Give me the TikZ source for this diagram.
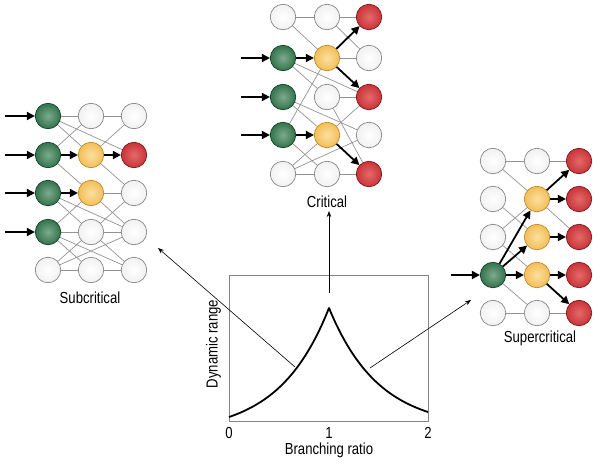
\documentclass[tikz,border=0pt]{standalone}
\usepackage{fontspec}
\setmainfont{Liberation Sans}[FakeStretch=0.82]
\usetikzlibrary{arrows.meta,backgrounds}
\definecolor{gI}{HTML}{7EAA8E}\definecolor{gM}{HTML}{3B7A53}\definecolor{gO}{HTML}{1B5232}\definecolor{bdG}{HTML}{143F27}
\definecolor{yI}{HTML}{FBE0A0}\definecolor{yM}{HTML}{F4C260}\definecolor{yO}{HTML}{E8A534}\definecolor{bdY}{HTML}{BE8A2A}
\definecolor{rI}{HTML}{E46A6A}\definecolor{rM}{HTML}{CC3A3E}\definecolor{rO}{HTML}{A61E24}\definecolor{bdR}{HTML}{7E171B}
\definecolor{wI}{HTML}{FFFFFF}\definecolor{wM}{HTML}{F1F1F1}\definecolor{wO}{HTML}{D6D6D6}\definecolor{bdW}{HTML}{858585}
\definecolor{edgegray}{HTML}{939393}
\pgfdeclareradialshading{shG}{\pgfpoint{0bp}{0bp}}{color(0bp)=(gI); color(22bp)=(gM); color(50bp)=(gO)}
\pgfdeclareradialshading{shY}{\pgfpoint{0bp}{0bp}}{color(0bp)=(yI); color(22bp)=(yM); color(50bp)=(yO)}
\pgfdeclareradialshading{shR}{\pgfpoint{0bp}{0bp}}{color(0bp)=(rI); color(22bp)=(rM); color(50bp)=(rO)}
\pgfdeclareradialshading{shW}{\pgfpoint{0bp}{0bp}}{color(0bp)=(wI); color(25bp)=(wM); color(50bp)=(wO)}
\tikzset{
  ball/.style={circle, minimum size=25.5pt, inner sep=0pt, line width=0.7pt, shade},
  link/.style={draw=edgegray, line width=0.7pt},
  fire/.style={draw=black, line width=1.8pt, -{Triangle[length=8pt,width=8pt]}},
  pointer/.style={draw=black, line width=0.6pt, -{Stealth[length=6pt,width=4.5pt]}},
  lbl/.style={anchor=base, inner sep=0pt, font=\fontsize{16}{19}\selectfont},
}
\newcommand\ballnode[4]{\node[ball, shading=sh#1, draw=bd#1] (#2) at (#3,#4) {};}
\begin{document}
\begin{tikzpicture}[x=1pt,y=-1pt]
\useasboundingbox (0,0) rectangle (600,466);
% ---------- Subcritical
\foreach \r/\y/\a/\b/\c in {1/116/G/W/W, 2/155/G/Y/R, 3/193/G/Y/W, 4/232/G/W/W, 5/270/W/W/W}{
  \ballnode{\a}{s1\r}{48}{\y}
  \ballnode{\b}{s2\r}{91}{\y}
  \ballnode{\c}{s3\r}{134}{\y}
}
\begin{scope}[on background layer]
\foreach \u/\v in {s11/s21, s21/s31, s11/s22, s11/s32, s21/s12, s31/s22, s12/s23, s22/s33,
  s23/s33, s13/s24, s13/s34, s23/s14, s23/s34, s33/s24, s14/s24, s24/s34, s14/s25, s14/s35,
  s15/s24, s15/s34, s24/s35, s15/s25, s25/s35}
  \draw[link] (\u) -- (\v);
\end{scope}
\draw[fire] (s12) -- (s22);
\draw[fire] (s22) -- (s32);
\draw[fire] (s13) -- (s23);
\foreach \r/\y in {1/116, 2/155, 3/193, 4/232}{
  \coordinate (si\r) at (5,\y);
  \draw[fire] (si\r) -- (s1\r);
}
\node[lbl] (sublabel) at (90,303) {Subcritical};
% ---------- Critical
\foreach \r/\y/\a/\b/\c in {1/17/W/W/R, 2/58/G/Y/W, 3/97/G/W/R, 4/135/G/Y/W, 5/174/W/W/R}{
  \ballnode{\a}{c1\r}{283}{\y}
  \ballnode{\b}{c2\r}{327}{\y}
  \ballnode{\c}{c3\r}{369}{\y}
}
\begin{scope}[on background layer]
\foreach \u/\v in {c11/c21, c21/c31, c11/c22, c21/c32, c22/c32, c12/c23, c12/c33, c22/c14,
  c13/c24, c13/c34, c23/c33, c24/c33, c23/c35, c14/c25, c15/c24, c15/c34, c15/c25, c25/c35}
  \draw[link] (\u) -- (\v);
\end{scope}
\draw[fire] (c12) -- (c22);
\draw[fire] (c22) -- (c31);
\draw[fire] (c22) -- (c33);
\draw[fire] (c14) -- (c24);
\draw[fire] (c24) -- (c35);
\foreach \r/\y in {2/58, 3/97, 4/135}{
  \coordinate (ci\r) at (241,\y);
  \draw[fire] (ci\r) -- (c1\r);
}
\node[lbl] (critlabel) at (327,207.5) {Critical};
% ---------- Supercritical
\foreach \r/\y/\a/\b/\c in {1/161/W/W/R, 2/199/W/Y/R, 3/237/W/Y/R, 4/275/G/Y/R, 5/313/W/W/R}{
  \ballnode{\a}{p1\r}{493}{\y}
  \ballnode{\b}{p2\r}{537}{\y}
  \ballnode{\c}{p3\r}{579}{\y}
}
\begin{scope}[on background layer]
\foreach \u/\v in {p11/p21, p21/p31, p11/p22, p12/p23, p22/p33, p13/p22, p13/p24, p14/p25,
  p15/p25, p25/p35}
  \draw[link] (\u) -- (\v);
\end{scope}
\foreach \u/\v in {p22/p31, p22/p32, p23/p33, p24/p34, p24/p35, p14/p22, p14/p23, p14/p24}
  \draw[fire] (\u) -- (\v);
\coordinate (pi4) at (451,275);
\draw[fire] (pi4) -- (p14);
\node[lbl] (suplabel) at (540,342.5) {Supercritical};
% ---------- Plot
\node[draw=bdW, line width=0.8pt, minimum width=199pt, minimum height=146pt, inner sep=0pt]
  (box) at (328.5,348) {};
\draw[line width=1.8pt, line join=round]
  plot[domain=229:329, samples=60] (\x, {421 - (4 + 109*(exp(2*(\x-229)/100)-1)/(exp(2)-1))})
  -- plot[domain=329:428, samples=60] (\x, {421 - (9 + 104*(exp(2*(1-(\x-329)/99))-1)/(exp(2)-1))});
\node[lbl] (t0) at (229,438.5) {0};
\node[lbl] (t1) at (329,438.5) {1};
\node[lbl] (t2) at (428,438.5) {2};
\node[lbl] (xlabel) at (329,454) {Branching ratio};
\node[lbl, rotate=90] (ylabel) at (217.5,344) {Dynamic range};
% ---------- pointers
\coordinate (pa1) at (295,367);
\coordinate (pb1) at (158,248);
\coordinate (pa2) at (329,293);
\coordinate (pb2) at (329,211);
\coordinate (pa3) at (370,368);
\coordinate (pb3) at (471,300);
\draw[pointer] (pa1) -- (pb1);
\draw[pointer] (pa2) -- (pb2);
\draw[pointer] (pa3) -- (pb3);
\end{tikzpicture}
\end{document}
